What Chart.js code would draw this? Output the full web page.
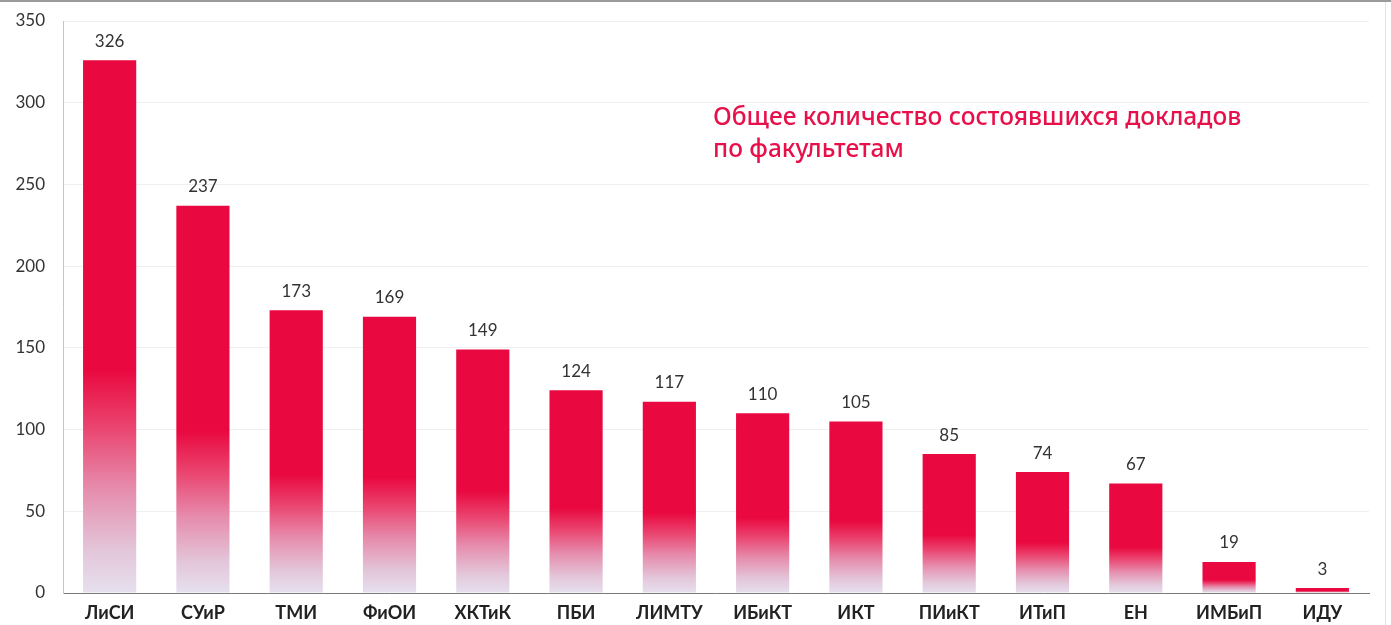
<!DOCTYPE html>
<html>
<head>
<meta charset="utf-8">
<script src="https://cdn.jsdelivr.net/npm/chart.js@4/dist/chart.umd.min.js"></script>
<style>
html,body{margin:0;padding:0;background:#fff;}
#wrap{width:1391px;height:625px;position:relative;}
</style>
</head>
<body>
<div id="wrap"><canvas id="c" width="1391" height="625"></canvas></div>
<script>
const categories = ["ЛиСИ","СУиР","ТМИ","ФиОИ","ХКТиК","ПБИ","ЛИМТУ","ИБиКТ","ИКТ","ПИиКТ","ИТиП","ЕН","ИМБиП","ИДУ"];
const reportCounts = [326,237,173,169,149,124,117,110,105,85,74,67,19,3];
const yTicks = [0,50,100,150,200,250,300,350];
const titleLines = ["Общее количество состоявшихся докладов","по факультетам"];

const RED = "#e9083f";

const barGradient = (ctx) => {
  const chart = ctx.chart;
  if (!chart.chartArea || ctx.raw == null) return RED;
  const y = chart.scales.y;
  const top = y.getPixelForValue(ctx.raw);
  const base = y.getPixelForValue(0);
  if (base - top < 1) return RED;
  const g = chart.ctx.createLinearGradient(0, base, 0, top);
  g.addColorStop(0, "#e6e0ee");
  g.addColorStop(0.08, "#e3c6d9");
  g.addColorStop(0.2, "#e68aab");
  g.addColorStop(0.31, "#ea4570");
  g.addColorStop(0.42, RED);
  g.addColorStop(1, RED);
  return g;
};

const valueLabels = {
  id: "valueLabels",
  afterDatasetsDraw(chart) {
    const c = chart.ctx;
    const meta = chart.getDatasetMeta(0);
    c.save();
    c.font = "17px Lato, 'Open Sans', sans-serif";
    c.fillStyle = "#333";
    c.textAlign = "center";
    c.textBaseline = "middle";
    meta.data.forEach((bar, i) => {
      c.fillText(String(reportCounts[i]), bar.x, bar.y - 19);
    });
    c.restore();
  }
};

const titleText = {
  id: "titleText",
  afterDraw(chart) {
    const c = chart.ctx;
    c.save();
    c.font = "500 24.5px 'Noto Sans', 'Open Sans', sans-serif";
    c.fillStyle = "#e8104a";
    c.textAlign = "left";
    c.textBaseline = "middle";
    c.fillText(titleLines[0], 713, 118);
    c.fillText(titleLines[1], 713, 150);
    c.restore();
  }
};

const frame = {
  id: "frame",
  beforeDraw(chart) {
    const c = chart.ctx;
    c.save();
    c.fillStyle = "#fff";
    c.fillRect(0, 0, chart.width, chart.height);
    c.fillStyle = "#9a9a9a";
    c.fillRect(0, 0, chart.width, 2);
    c.fillStyle = "#e2e2e2";
    c.fillRect(1385, 2, 1, chart.height);
    c.restore();
  }
};

new Chart(document.getElementById("c"), {
  type: "bar",
  data: {
    labels: categories,
    datasets: [{
      data: reportCounts,
      backgroundColor: barGradient,
      borderWidth: 0,
      barPercentage: 0.57,
      categoryPercentage: 1
    }]
  },
  options: {
    responsive: false,
    animation: false,
    devicePixelRatio: 1,
    layout: { padding: { top: 21, right: 22, left: 0, bottom: 0 } },
    plugins: { legend: { display: false }, tooltip: { enabled: false }, title: { display: false } },
    scales: {
      x: {
        grid: { display: false, drawTicks: false },
        border: { display: true, color: "#7a7a7a", width: 1 },
        ticks: {
          padding: 9,
          color: "#222",
          font: { family: "Lato, 'Open Sans', sans-serif", size: 18, weight: "bold" },
          maxRotation: 0,
          autoSkip: false
        },
        afterFit(scale) { scale.height = 32; scale.paddingLeft = 0; scale.paddingRight = 0; }
      },
      y: {
        min: 0,
        max: 350,
        afterBuildTicks(scale) { scale.ticks = yTicks.map(v => ({ value: v })); },
        grid: { color: "#efefef", drawTicks: false, lineWidth: 1 },
        border: { display: true, color: "#c4c4c4", width: 1 },
        ticks: {
          padding: 18,
          color: "#333",
          font: { family: "Lato, 'Open Sans', sans-serif", size: 17 }
        },
        afterFit(scale) { scale.width = 63; scale.paddingTop = 0; scale.paddingBottom = 0; }
      }
    }
  },
  plugins: [frame, valueLabels, titleText]
});
</script>
</body>
</html>
